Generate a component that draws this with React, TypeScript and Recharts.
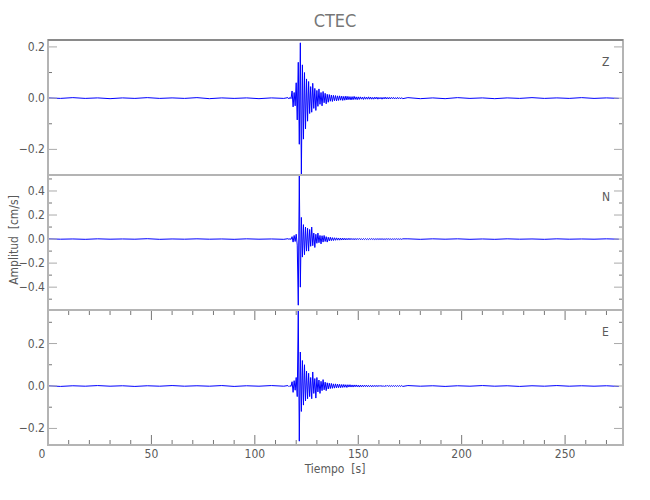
import { Line, LineChart, XAxis, YAxis } from "recharts";

// seismogram samples: quiet part every 6 s, the event every 0.5 s
const quietStep = 6;
const burstStart = 116;
const burstStep = 0.5;
const postStart = 174;

const xTicks = [0, 10, 20, 30, 40, 50, 60, 70, 80, 90, 100, 110, 120, 130, 140, 150, 160, 170, 180, 190, 200, 210, 220, 230, 240, 250, 260, 270];

const zTicks = [-0.2, -0.1, 0, 0.1, 0.2];
const nTicks = [-0.5, -0.4, -0.3, -0.2, -0.1, 0, 0.1, 0.2, 0.3, 0.4, 0.5];
const eTicks = [-0.2, -0.1, 0, 0.1, 0.2, 0.3];

const zPre = [0.001, -0.001, 0.002, -0.001, 0.001, -0.002, 0.001, -0.001, 0.002, -0.001, 0.001, -0.001, 0.002, -0.002, 0.001, -0.001, 0.001, -0.002, 0.001, -0.001];
const zBurst = [
  0.002, -0.003, 0.003, -0.002, 0.028, -0.034, 0.022, -0.03, 0.06, -0.085,
  0.14, -0.18, 0.216, -0.3, 0.13, -0.16, 0.1, -0.12, 0.075, -0.09,
  0.065, -0.06, 0.045, -0.055, 0.058, -0.04, 0.038, -0.048, 0.03, -0.032,
  0.036, -0.024, 0.022, -0.03, 0.026, -0.018, 0.019, -0.022, 0.015, -0.016,
  0.014, -0.012, 0.012, -0.013, 0.011, -0.01, 0.01, -0.011, 0.009, -0.009,
  0.009, -0.008, 0.008, -0.009, 0.007, -0.008, 0.008, -0.007, 0.007, -0.006,
  0.006, -0.007, 0.006, -0.006, 0.007, -0.005, 0.005, -0.006, 0.005, -0.005,
  0.005, -0.004, 0.004, -0.005, 0.005, -0.004, 0.004, -0.004, 0.005, -0.004,
  0.004, -0.004, 0.003, -0.004, 0.004, -0.003, 0.004, -0.004, 0.003, -0.003,
  0.003, -0.004, 0.003, -0.003, 0.004, -0.003, 0.003, -0.003, 0.003, -0.003,
  0.003, -0.002, 0.003, -0.003, 0.002, -0.003, 0.003, -0.002, 0.002, -0.003, 0.002, -0.002,
];
const zPost = [0.002, -0.002, 0.001, -0.002, 0.002, -0.001, 0.001, -0.002, 0.001, -0.001, 0.002, -0.001, 0.001, -0.001, 0.002, -0.001, 0.001, -0.001];

const nPre = [0.002, -0.001, 0.001, -0.002, 0.002, -0.001, 0.001, -0.001, 0.003, -0.002, 0.001, -0.001, 0.002, -0.001, 0.001, -0.002, 0.002, -0.001, 0.001, -0.002];
const nBurst = [
  0.003, -0.002, 0.003, -0.003, 0.02, -0.025, 0.03, -0.02, 0.04, -0.05,
  -0.55, 0.53, -0.4, 0.18, -0.15, 0.12, -0.13, 0.1, -0.1, 0.09,
  -0.1, 0.08, -0.06, 0.1, -0.055, 0.05, -0.07, 0.04, -0.035, 0.05,
  -0.03, 0.03, -0.04, 0.028, -0.025, 0.03, -0.02, 0.02, -0.025, 0.015,
  -0.015, 0.015, -0.013, 0.012, -0.012, 0.011, -0.01, 0.01, -0.009, 0.009,
  -0.009, 0.008, -0.008, 0.008, -0.007, 0.007, -0.007, 0.006, -0.006, 0.007,
  -0.006, 0.006, -0.005, 0.005, -0.006, 0.005, -0.005, 0.005, -0.004, 0.005,
  -0.004, 0.004, -0.005, 0.004, -0.004, 0.004, -0.004, 0.003, -0.004, 0.004,
  -0.003, 0.004, -0.003, 0.003, -0.004, 0.003, -0.003, 0.003, -0.003, 0.003,
  -0.003, 0.003, -0.003, 0.002, -0.003, 0.003, -0.002, 0.003, -0.002, 0.002,
  -0.003, 0.002, -0.002, 0.002, -0.002, 0.003, -0.002, 0.002, -0.002, 0.002, -0.002, 0.002,
];
const nPost = [0.002, -0.002, 0.002, -0.001, 0.002, -0.002, 0.001, -0.002, 0.002, -0.001, 0.001, -0.002, 0.002, -0.001, 0.001, -0.001, 0.002, -0.001];

const ePre = [0.001, -0.002, 0.001, -0.001, 0.002, -0.001, 0.001, -0.002, 0.001, -0.001, 0.002, -0.001, 0.001, -0.001, 0.002, -0.002, 0.001, -0.001, 0.002, -0.001];
const eBurst = [
  0.002, -0.003, 0.002, -0.002, 0.02, -0.03, 0.025, -0.02, 0.04, -0.05,
  0.358, -0.26, 0.16, -0.12, 0.12, -0.09, 0.1, -0.07, 0.07, -0.06,
  0.06, -0.05, 0.04, -0.06, 0.066, -0.035, 0.035, -0.057, 0.04, -0.028,
  0.028, -0.035, 0.022, -0.022, 0.03, -0.018, 0.018, -0.022, 0.015, -0.014,
  0.013, -0.012, 0.012, -0.011, 0.01, -0.01, 0.01, -0.009, 0.009, -0.008,
  0.008, -0.008, 0.007, -0.007, 0.007, -0.006, 0.006, -0.007, 0.006, -0.005,
  0.006, -0.005, 0.005, -0.005, 0.005, -0.004, 0.005, -0.004, 0.004, -0.005,
  0.004, -0.004, 0.004, -0.004, 0.004, -0.003, 0.004, -0.004, 0.003, -0.003,
  0.003, -0.004, 0.003, -0.003, 0.003, -0.003, 0.003, -0.003, 0.003, -0.002,
  0.003, -0.003, 0.002, -0.003, 0.002, -0.002, 0.003, -0.002, 0.002, -0.002,
  0.002, -0.002, 0.002, -0.002, 0.002, -0.002, 0.002, -0.002, 0.002, -0.002, 0.002, -0.002,
];
const ePost = [0.002, -0.001, 0.001, -0.002, 0.001, -0.001, 0.002, -0.001, 0.001, -0.002, 0.001, -0.001, 0.002, -0.001, 0.001, -0.001, 0.001, -0.002];

const PLOT_LEFT = 48;
const PLOT_W = 575;
const PANEL_H = 135;
const PAD = 4;
const FONT = '"DejaVu Sans Condensed", "Liberation Sans Narrow", "DejaVu Sans", sans-serif';
const TEXT = "#5a5a5a";
const TICK = "#777";

function buildTrace(pre: number[], burst: number[], post: number[]) {
  const rows: { t: number; v: number }[] = [];
  pre.forEach((v, i) => rows.push({ t: i * quietStep, v }));
  burst.forEach((v, i) => rows.push({ t: burstStart + i * burstStep, v }));
  post.forEach((v, i) => rows.push({ t: postStart + i * quietStep, v }));
  return rows;
}

const panels = [
  { name: "Z", top: 40, domain: [-0.3, 0.227], ticks: zTicks, data: buildTrace(zPre, zBurst, zPost) },
  { name: "N", top: 175, domain: [-0.59, 0.533], ticks: nTicks, data: buildTrace(nPre, nBurst, nPost) },
  { name: "E", top: 310, domain: [-0.278, 0.358], ticks: eTicks, data: buildTrace(ePre, eBurst, ePost) },
];

function fmt(v: number) {
  if (Math.abs(v) < 1e-9) return "0.0";
  return (v < 0 ? "\u2212" : "") + Math.abs(v).toFixed(1);
}

function YTick(props: any) {
  const { x, y, payload } = props;
  const v = payload.value as number;
  const major = Math.round(Math.abs(v) * 10) % 2 === 0;
  const len = major ? 9 : 4;
  return (
    <g>
      <line x1={x} x2={x + len} y1={y} y2={y} stroke={major ? "#aaa" : TICK} />
      <line x1={x + PLOT_W} x2={x + PLOT_W - len} y1={y} y2={y} stroke={major ? "#aaa" : TICK} />
      {major && (
        <text x={x - 3} y={y + 4} textAnchor="end" fontSize={12} fontFamily={FONT} fill={TEXT}>
          {fmt(v)}
        </text>
      )}
    </g>
  );
}

function XTick(props: any) {
  const { x, y, payload, showLabels } = props;
  const v = payload.value as number;
  const major = v % 50 === 0;
  const len = major ? 10 : 5;
  return (
    <g>
      <line x1={x} x2={x} y1={y} y2={y - len} stroke={TICK} />
      <line x1={x} x2={x} y1={y - PANEL_H} y2={y - PANEL_H + len} stroke={TICK} />
      {showLabels && major && (
        <text x={v === 0 ? x - 6 : x} y={y + 13} textAnchor="middle" fontSize={12} fontFamily={FONT} fill={TEXT}>
          {v}
        </text>
      )}
    </g>
  );
}

export default function App() {
  return (
    <div style={{ position: "absolute", left: 0, top: 0, width: 650, height: 500, background: "#fff", overflow: "hidden" }}>
      {panels.map((p, idx) => {
        const last = idx === panels.length - 1;
        const axisH = last ? 30 : 0;
        return (
          <div key={p.name} style={{ position: "absolute", left: 0, top: p.top - PAD }}>
            <LineChart
              width={650}
              height={PANEL_H + PAD * 2 + axisH}
              data={p.data}
              margin={{ top: PAD, right: 650 - PLOT_LEFT - PLOT_W, bottom: PAD, left: 0 }}
            >
              <XAxis
                type="number"
                dataKey="t"
                domain={[0, 278]}
                ticks={xTicks}
                interval={0}
                allowDataOverflow
                axisLine={false}
                tickLine={false}
                tickSize={0}
                tickMargin={0}
                height={axisH}
                tick={(tp: any) => <XTick {...tp} showLabels={last} />}
              />
              <YAxis
                type="number"
                domain={p.domain}
                ticks={p.ticks}
                interval={0}
                allowDataOverflow
                width={PLOT_LEFT}
                axisLine={false}
                tickLine={false}
                tickSize={0}
                tickMargin={0}
                tick={(tp: any) => <YTick {...tp} />}
              />
              <Line
                type="linear"
                dataKey="v"
                stroke="#0000ff"
                strokeWidth={1}
                dot={false}
                isAnimationActive={false}
              />
            </LineChart>
          </div>
        );
      })}

      <svg width={650} height={500} style={{ position: "absolute", left: 0, top: 0, pointerEvents: "none" }}>
        {panels.map((p) => (
          <rect key={p.name} x={PLOT_LEFT} y={p.top} width={PLOT_W} height={PANEL_H} fill="none" stroke="#b4b4b4" strokeWidth={2} />
        ))}
        <line x1={PLOT_LEFT} x2={PLOT_LEFT + PLOT_W} y1={40} y2={40} stroke="#8a8a8a" strokeWidth={2} />
      </svg>

      <div style={{ position: "absolute", left: 235, top: 10, width: 200, textAlign: "center", fontFamily: FONT, fontSize: 18, color: "#777" }}>
        CTEC
      </div>
      {panels.map((p) => (
        <div key={p.name} style={{ position: "absolute", left: 602, top: p.top + 15, fontFamily: FONT, fontSize: 12, color: TEXT }}>
          {p.name}
        </div>
      ))}
      <div
        style={{
          position: "absolute",
          left: 14,
          top: 240,
          transform: "translate(-50%, -50%) rotate(-90deg)",
          whiteSpace: "nowrap",
          fontFamily: FONT,
          fontSize: 12,
          color: TEXT,
        }}
      >
        Amplitud&nbsp; [cm/s]
      </div>
      <div style={{ position: "absolute", left: 285, top: 462, width: 100, textAlign: "center", fontFamily: FONT, fontSize: 12, color: TEXT }}>
        Tiempo&nbsp; [s]
      </div>
    </div>
  );
}
